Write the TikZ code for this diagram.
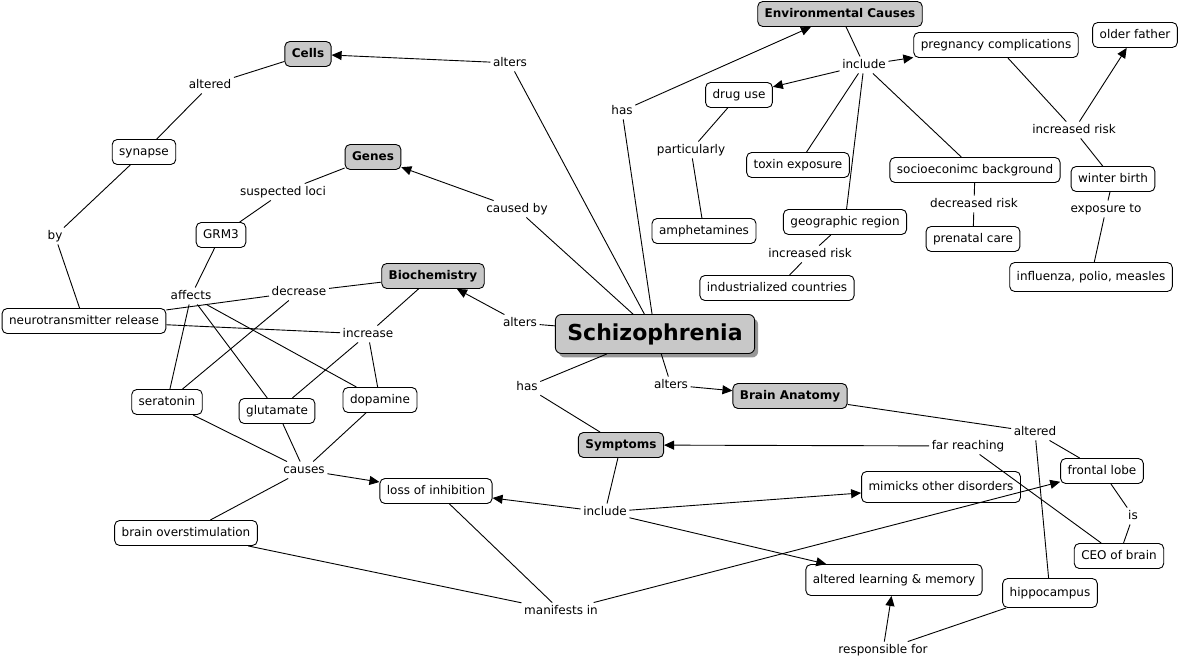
\documentclass[tikz,border=0pt]{standalone}
\usepackage{fontspec}
\setmainfont{DejaVu Sans}
\usetikzlibrary{arrows.meta,shadows}
\definecolor{cgray}{RGB}{200,200,200}
\definecolor{sgray}{RGB}{150,150,150}
\begin{document}
\begin{tikzpicture}[x=1pt,y=-1pt,
  every node/.style={font=\fontsize{12}{14}\selectfont},
  cpt/.style={draw, rounded corners=5pt, fill=white, line width=0.9pt, inner xsep=7pt, inner ysep=2pt, minimum height=25pt, text height=9pt, text depth=2.5pt},
  gcpt/.style={cpt, fill=cgray, font=\fontsize{12}{14}\selectfont\bfseries},
  bigcpt/.style={draw, rounded corners=6pt, fill=cgray, line width=0.9pt, inner xsep=12pt, minimum height=39pt, font=\fontsize{22}{25}\selectfont\bfseries, drop shadow={shadow xshift=3.5pt, shadow yshift=-4pt, fill=sgray, opacity=1}},
  lnk/.style={inner sep=2.5pt, text height=9pt, text depth=2.5pt},
  con/.style={line width=0.9pt},
  arr/.style={con, -{Triangle[length=10pt,width=9pt]}}
]
\useasboundingbox (0,0) rectangle (1181,660);
% concepts
\node[gcpt] (cells) at (308,54) {Cells};
\node[gcpt] (genes) at (373,157) {Genes};
\node[gcpt] (bio) at (433,276) {Biochemistry};
\node[gcpt] (env) at (840,14) {Environmental Causes};
\node[bigcpt] (sch) at (655,334) {Schizophrenia};
\node[gcpt] (ba) at (790,396) {Brain Anatomy};
\node[gcpt] (sym) at (621,445) {Symptoms};
\node[cpt] (syn) at (144,152) {synapse};
\node[cpt] (grm) at (221,235) {GRM3};
\node[cpt] (ntr) at (84,321) {neurotransmitter release};
\node[cpt] (ser) at (167,402) {seratonin};
\node[cpt] (glu) at (277,411) {glutamate};
\node[cpt] (dop) at (380,400) {dopamine};
\node[cpt] (bos) at (186,533) {brain overstimulation};
\node[cpt] (loi) at (436,491) {loss of inhibition};
\node[cpt] (drug) at (739,95) {drug use};
\node[cpt] (amph) at (704,231) {amphetamines};
\node[cpt] (tox) at (798,165) {toxin exposure};
\node[cpt] (geo) at (845,222) {geographic region};
\node[cpt] (ind) at (777,288) {industrialized countries};
\node[cpt] (soc) at (975,170) {socioeconimc background};
\node[cpt] (pren) at (973,239) {prenatal care};
\node[cpt] (preg) at (996,45) {pregnancy complications};
\node[cpt] (old) at (1135,35) {older father};
\node[cpt] (win) at (1113,179) {winter birth};
\node[cpt, minimum height=29pt] (flu) at (1091,277) {influenza, polio, measles};
\node[cpt, minimum height=31pt] (mim) at (941,487) {mimicks other disorders};
\node[cpt] (fl) at (1102,471) {frontal lobe};
\node[cpt] (ceo) at (1119,556) {CEO of brain};
\node[cpt, minimum height=31pt] (alm) at (894,580) {altered learning \& memory};
\node[cpt, minimum height=29pt] (hip) at (1050,593) {hippocampus};
% linking phrases
\node[lnk] (l1) at (510,63) {alters};
\node[lnk] (l2) at (210,85) {altered};
\node[lnk] (l3) at (55,236) {by};
\node[lnk] (l4) at (283,192) {suspected loci};
\node[lnk] (l5) at (517,209) {caused by};
\node[lnk] (l6) at (191,296) {affects};
\node[lnk] (l7) at (299,292) {decrease};
\node[lnk] (l8) at (368,334) {increase};
\node[lnk] (l9) at (520,323) {alters};
\node[lnk] (l10) at (622,111) {has};
\node[lnk] (l11) at (864,65) {include};
\node[lnk] (l12) at (691,150) {particularly};
\node[lnk] (l13) at (810,254) {increased risk};
\node[lnk] (l14) at (974,204) {decreased risk};
\node[lnk] (l15) at (1074,130) {increased risk};
\node[lnk] (l16) at (1106,209) {exposure to};
\node[lnk] (l17) at (527,387) {has};
\node[lnk] (l18) at (671,385) {alters};
\node[lnk] (l19) at (1035,432) {altered};
\node[lnk] (l20) at (968,446) {far reaching};
\node[lnk] (l21) at (304,470) {causes};
\node[lnk] (l22) at (605,512) {include};
\node[lnk] (l23) at (1133,516) {is};
\node[lnk] (l24) at (561,611) {manifests in};
\node[lnk] (l25) at (883,650) {responsible for};
% connectors
\draw[con] (sch) -- (l1); \draw[arr] (l1) -- (cells);
\draw[con] (cells) -- (l2); \draw[con] (l2) -- (syn);
\draw[con] (syn) -- (l3); \draw[con] (l3) -- (ntr);
\draw[con] (genes) -- (l4); \draw[con] (l4) -- (grm);
\draw[con] (sch) -- (l5); \draw[arr] (l5) -- (genes);
\draw[con] (grm) -- (l6);
\draw[con] (l6) -- (ser); \draw[con] (l6) -- (glu); \draw[con] (l6) -- (dop);
\draw[con] (bio) -- (l7);
\draw[con] (l7) -- (ntr); \draw[con] (l7) -- (ser);
\draw[con] (bio) -- (l8);
\draw[con] (l8) -- (ntr); \draw[con] (l8) -- (glu); \draw[con] (l8) -- (dop);
\draw[con] (sch) -- (l9); \draw[arr] (l9) -- (bio);
\draw[con] (sch) -- (l10); \draw[arr] (l10) -- (env);
\draw[con] (env) -- (l11);
\draw[arr] (l11) -- (drug); \draw[arr] (l11) -- (preg);
\draw[con] (l11) -- (tox); \draw[con] (l11) -- (geo); \draw[con] (l11) -- (soc);
\draw[con] (drug) -- (l12); \draw[con] (l12) -- (amph);
\draw[con] (geo) -- (l13); \draw[con] (l13) -- (ind);
\draw[con] (soc) -- (l14); \draw[con] (l14) -- (pren);
\draw[con] (preg) -- (l15); \draw[arr] (l15) -- (old); \draw[con] (l15) -- (win);
\draw[con] (win) -- (l16); \draw[con] (l16) -- (flu);
\draw[con] (sch) -- (l17); \draw[con] (l17) -- (sym);
\draw[con] (sch) -- (l18); \draw[arr] (l18) -- (ba);
\draw[con] (ba) -- (l19); \draw[con] (l19) -- (fl); \draw[con] (l19) -- (hip);
\draw[con] (ceo) -- (l20); \draw[arr] (l20) -- (sym);
\draw[con] (ser) -- (l21); \draw[con] (glu) -- (l21); \draw[con] (dop) -- (l21);
\draw[arr] (l21) -- (loi); \draw[con] (l21) -- (bos);
\draw[con] (sym) -- (l22);
\draw[arr] (l22) -- (loi); \draw[arr] (l22) -- (mim); \draw[arr] (l22) -- (alm);
\draw[con] (fl) -- (l23); \draw[con] (l23) -- (ceo);
\draw[con] (loi) -- (l24); \draw[con] (bos) -- (l24); \draw[arr] (l24) -- (fl);
\draw[con] (hip) -- (l25); \draw[arr] (l25) -- (alm);
\end{tikzpicture}
\end{document}
